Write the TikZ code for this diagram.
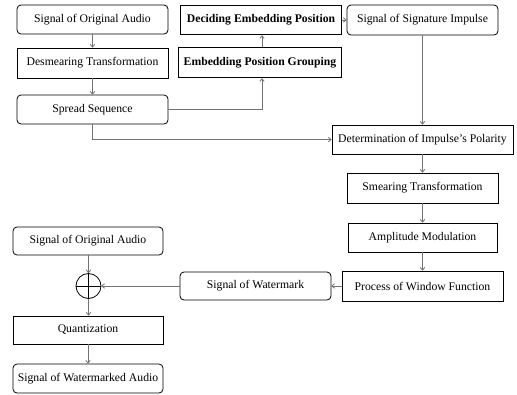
\documentclass[tikz,border=0pt]{standalone}
\usepackage{fontspec}
\setmainfont{Liberation Serif}
\usetikzlibrary{arrows.meta,positioning}
\begin{document}
\begin{tikzpicture}[x=1pt,y=-1pt,
  box/.style={draw=black,line width=0.8pt,inner sep=0pt,font=\fontsize{11.7}{13}\selectfont,align=center},
  rbox/.style={box,rounded corners=4pt},
  bbox/.style={box,line width=1.6pt,font=\fontsize{11.7}{13}\selectfont\bfseries},
  conn/.style={draw=black!55,line width=0.8pt,-{To[length=3.5pt,width=5pt]}},
]
\useasboundingbox (0,0) rectangle (517,394);
\node[rbox,minimum width=151pt,minimum height=29pt] (soa1) at (92.5,19.5) {Signal of Original Audio};
\node[box,minimum width=151pt,minimum height=30pt] (desm) at (92.5,63) {Desmearing Transformation};
\node[rbox,minimum width=151pt,minimum height=29pt] (spread) at (92.5,109.5) {Spread Sequence};
\node[bbox,minimum width=161pt,minimum height=29pt] (decid) at (261,20) {Deciding Embedding Position};
\node[bbox,minimum width=163pt,minimum height=30pt] (group) at (260,62.5) {Embedding Position Grouping};
\node[rbox,minimum width=151pt,minimum height=30pt] (sig) at (422.5,20) {Signal of Signature Impulse};
\node[box,minimum width=181pt,minimum height=29pt] (det) at (422.5,139.5) {Determination of Impulse's Polarity};
\node[box,minimum width=151pt,minimum height=30pt] (smear) at (422.5,188) {Smearing Transformation};
\node[box,minimum width=149pt,minimum height=29pt] (ampl) at (422.5,237.5) {Amplitude Modulation};
\node[box,minimum width=161pt,minimum height=30pt] (proc) at (422.5,286) {Process of Window Function};
\node[rbox,minimum width=151pt,minimum height=28pt] (wm) at (255.5,286) {Signal of Watermark};
\node[rbox,minimum width=150pt,minimum height=28pt] (soa2) at (88,241) {Signal of Original Audio};
\node[draw=black,line width=0.8pt,circle,minimum size=25pt,inner sep=0pt] (plus) at (88.5,286) {};
\draw[line width=0.8pt] (plus.north) -- (plus.south) (plus.west) -- (plus.east);
\node[box,minimum width=150pt,minimum height=28pt] (quant) at (88,330) {Quantization};
\node[rbox,minimum width=150pt,minimum height=29pt] (wmaud) at (88,378.5) {Signal of Watermarked Audio};
\draw[conn] (soa1) -- (desm);
\draw[conn] (desm) -- (spread);
\draw[conn] (spread.east) -| ([xshift=2pt]group.south);
\draw[conn] ([xshift=2pt]group.north) -- ([xshift=2pt,yshift=0pt]group.north |- decid.south);
\draw[conn] (decid) -- (sig);
\draw[conn] (sig) -- (det);
\draw[conn] (spread.south) |- (det.west);
\draw[conn] (det) -- (smear);
\draw[conn] (smear) -- (ampl);
\draw[conn] (ampl) -- (proc);
\draw[conn] (proc) -- (wm);
\draw[conn] (wm) -- (plus);
\draw[conn] ([xshift=0.5pt]soa2.south) -- (plus.north);
\draw[conn] (plus.south) -- ([xshift=0.5pt]quant.north);
\draw[conn] (quant) -- (wmaud);
\end{tikzpicture}
\end{document}
